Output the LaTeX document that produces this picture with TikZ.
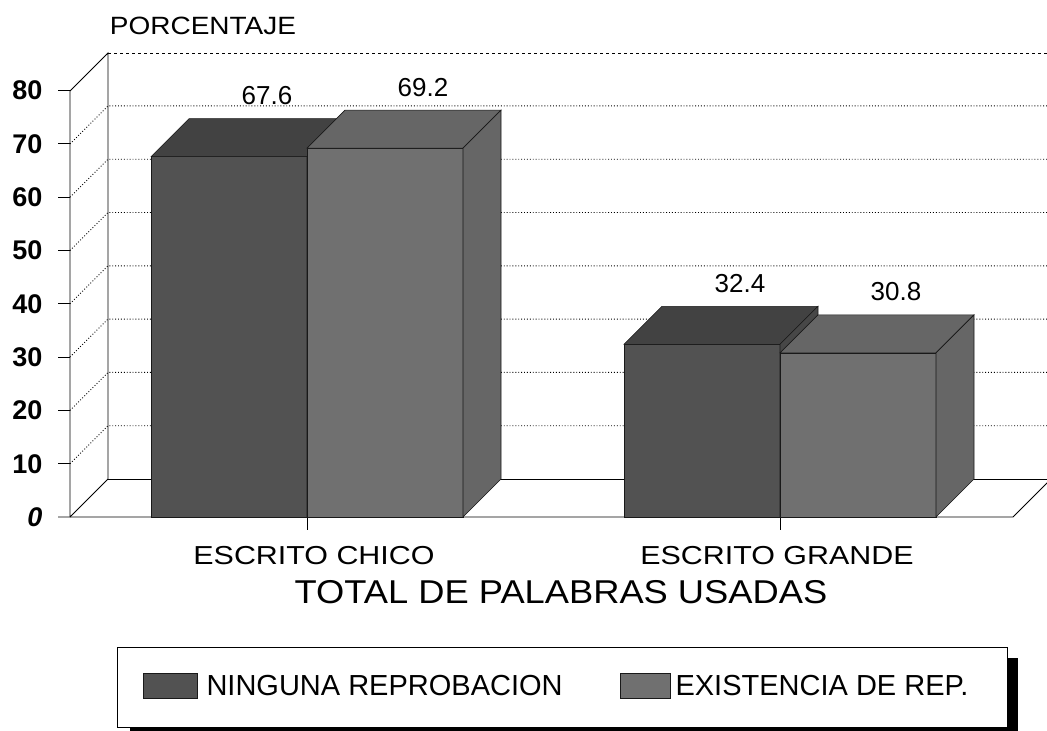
\documentclass[tikz,border=0pt]{standalone}
\usepackage{fontspec}
\setmainfont{Liberation Sans}
\newcommand{\tam}[1]{\fontsize{#1}{#1}\selectfont}
\newcommand{\caja}[6]{%
	\pgfmathsetmacro\ytop{517-5.33*#2}
	\filldraw[#3] (#1,517) rectangle ({#1+156},\ytop);
	\filldraw[#4] (#1,\ytop) -- ++(38,-38) -- ++(156,0) -- ++(-38,38) -- cycle;
	\filldraw[#5] ({#1+156},\ytop) -- ++(38,-38) -- ({#1+194},479) -- ({#1+156},517) -- cycle;
	\node[valor] (#6) at ({#1+116},{\ytop-61}) {#2};
}

\begin{document}
	\begin{tikzpicture}[x=1pt,y=-1pt,
		linea/.style={line width=0.9pt},
		rejilla/.style={dotted,line width=0.9pt},
		frenteA/.style={fill=black!68,draw=black!90,line width=0.6pt},
		arribaA/.style={fill=black!74,draw=black!90,line width=0.6pt},
		ladoA/.style={fill=black!72,draw=black!90,line width=0.6pt},
		frenteB/.style={fill=black!56,draw=black!90,line width=0.6pt},
		arribaB/.style={fill=black!60,draw=black!90,line width=0.6pt},
		ladoB/.style={fill=black!60,draw=black!90,line width=0.6pt},
		valor/.style={font=\tam{26}},
		escala/.style={font=\bfseries\tam{27},anchor=east},
		categoria/.style={font=\tam{26},xscale=1.17},
		leyenda/.style={font=\tam{29},anchor=west}]
		\useasboundingbox (0,0) rectangle (1047,731);
		\node[font=\tam{25},xscale=1.12] (porc) at (203,26) {PORCENTAJE};
		\draw[linea] (70,517) -- (70,91) -- (108,53) -- (108,479) -- (70,517);
		\draw[linea,dashed] (108,53) -- (1047,53);
		\foreach \v in {10,20,...,70}{
			\draw[rejilla] (70,{517-5.33*\v}) -- ++(38,-38) -- ({1047},{479-5.33*\v});
		}
		\foreach \v in {10,20,...,80}{
			\draw[linea] (58,{517-5.33*\v}) -- (70,{517-5.33*\v});
			\node[escala] (e\v) at (46,{517-5.33*\v}) {\v};
		}
		\node[escala] (e0) at (46,517) {\itshape 0};
		\draw[linea] (108,479) -- (1047,479);
		\draw[linea] (58,517) -- (1013,517) -- (1051,479);
		\draw[linea] (307,517) -- (307,530);
		\draw[linea] (780,517) -- (780,530);
		\caja{151}{67.6}{frenteA}{arribaA}{ladoA}{v1}
		\caja{307}{69.2}{frenteB}{arribaB}{ladoB}{v2}
		\caja{624}{32.4}{frenteA}{arribaA}{ladoA}{v3}
		\caja{780}{30.8}{frenteB}{arribaB}{ladoB}{v4}
		\node[categoria] (chico) at (314,556) {ESCRITO CHICO};
		\node[categoria] (grande) at (777,556) {ESCRITO GRANDE};
		\node[font=\tam{33},xscale=1.1] (total) at (561,592) {TOTAL DE PALABRAS USADAS};
		\fill[black] (130,658) rectangle (1018,731);
		\filldraw[fill=white,draw=black,line width=0.7pt] (117,647) rectangle (1007,727);
		\filldraw[frenteA] (143,673) rectangle (197,698);
		\node[leyenda] (ley1) at (203,686) {NINGUNA REPROBACION};
		\filldraw[frenteB] (620,673) rectangle (670,698);
		\node[leyenda] (ley2) at (672,686) {EXISTENCIA DE REP.};
	\end{tikzpicture}
\end{document}
